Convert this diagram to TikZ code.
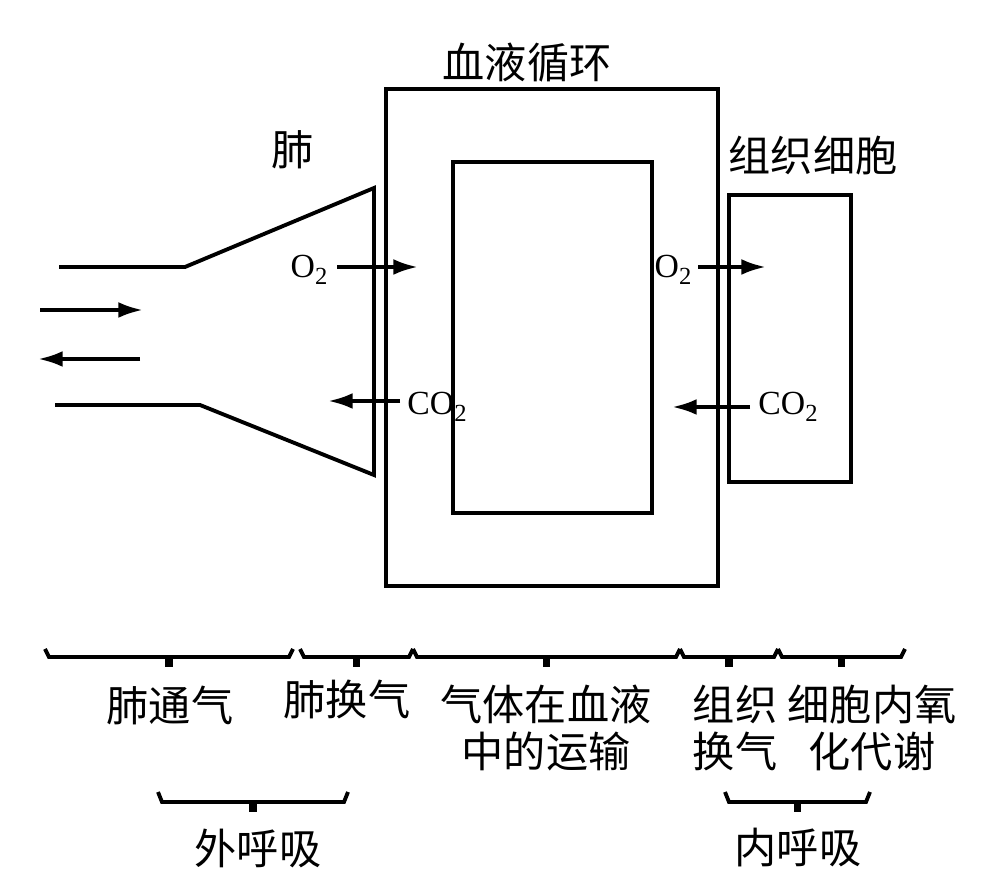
\documentclass[tikz,border=0pt]{standalone}
\usepackage{fontspec}
\newfontfamily\cjk{Noto Sans CJK SC}
\newfontfamily\chemfont{Liberation Serif}
\usetikzlibrary{arrows.meta,positioning}

\begin{document}
\begin{tikzpicture}[line width=1.1pt,
  gas/.style={-{Latex[length=7pt,width=4.5pt]}},
  lbl/.style={font=\cjk\fontsize{12}{13.5}\selectfont, align=center, inner sep=0pt},
  chem/.style={font=\chemfont\fontsize{9.6}{11}\selectfont, inner sep=0pt},
  box/.style={draw, inner sep=0pt, anchor=north west}]
\useasboundingbox (0,0) rectangle (10.05,8.95);

% blood circulation
\node[box, minimum width=3.32cm, minimum height=4.97cm] (blood) at (3.84,8.08) {};
\node[box, minimum width=1.99cm, minimum height=3.51cm] (inner) at (4.51,7.35) {};
\node[lbl] (bloodlbl) at (5.27,8.32) {血液循环};

% lung
\draw (0.59,6.28) -- (1.85,6.28) -- (3.74,7.07) -- (3.74,4.20) -- (2.00,4.90) -- (0.55,4.90);
\node[lbl] (lung) at (2.93,7.45) {肺};
\draw[gas] (0.40,5.85) -- (1.43,5.85);
\draw[gas] (1.40,5.36) -- (0.38,5.36);

% tissue cells
\node[box, minimum width=1.22cm, minimum height=2.87cm] (tissue) at (7.27,7.02) {};
\node[lbl] (tissuelbl) at (8.13,7.40) {组织细胞};

% gas exchange
\node[chem] (o2a) at (3.09,6.25) {O\raisebox{-1.8pt}{\fontsize{7}{8}\selectfont 2}};
\draw[gas] (3.37,6.28) -- (4.18,6.28);
\node[chem] (co2a) at (4.37,4.88) {CO\raisebox{-1.8pt}{\fontsize{7}{8}\selectfont 2}};
\draw[gas] (4.00,4.94) -- (3.28,4.94);
\node[chem] (o2b) at (6.73,6.25) {O\raisebox{-1.8pt}{\fontsize{7}{8}\selectfont 2}};
\draw[gas] (6.98,6.28) -- (7.66,6.28);
\node[chem] (co2b) at (7.88,4.88) {CO\raisebox{-1.8pt}{\fontsize{7}{8}\selectfont 2}};
\draw[gas] (7.50,4.88) -- (6.72,4.88);

% braces
\foreach \a/\b in {0.45/2.93, 3.00/4.13, 4.13/6.80, 6.80/7.78, 7.78/9.05} {
  \draw (\a,2.46) -- (\a+0.04,2.38) -- (\b-0.04,2.38) -- (\b,2.46);
  \draw[line width=2pt] ({(\a+\b)/2},2.38) -- ({(\a+\b)/2},2.28);
}
\foreach \a/\b in {1.58/3.48, 7.25/8.70} {
  \draw (\a,1.03) -- (\a+0.04,0.93) -- (\b-0.04,0.93) -- (\b,1.03);
  \draw[line width=2pt] ({(\a+\b)/2},0.93) -- ({(\a+\b)/2},0.83);
}

\node[lbl] (vent) at (1.70,1.90) {肺通气};
\node[lbl] (lungex) at (3.47,1.96) {肺换气};
\node[lbl] (transport) at (5.46,1.67) {气体在血液\\中的运输};
\node[lbl] (tissueex) at (7.35,1.67) {组织\\换气};
\node[lbl] (metab) at (8.72,1.67) {细胞内氧\\化代谢};
\node[lbl] (outer) at (2.58,0.47) {外呼吸};
\node[lbl] (innerresp) at (7.98,0.47) {内呼吸};

\end{tikzpicture}
\end{document}
